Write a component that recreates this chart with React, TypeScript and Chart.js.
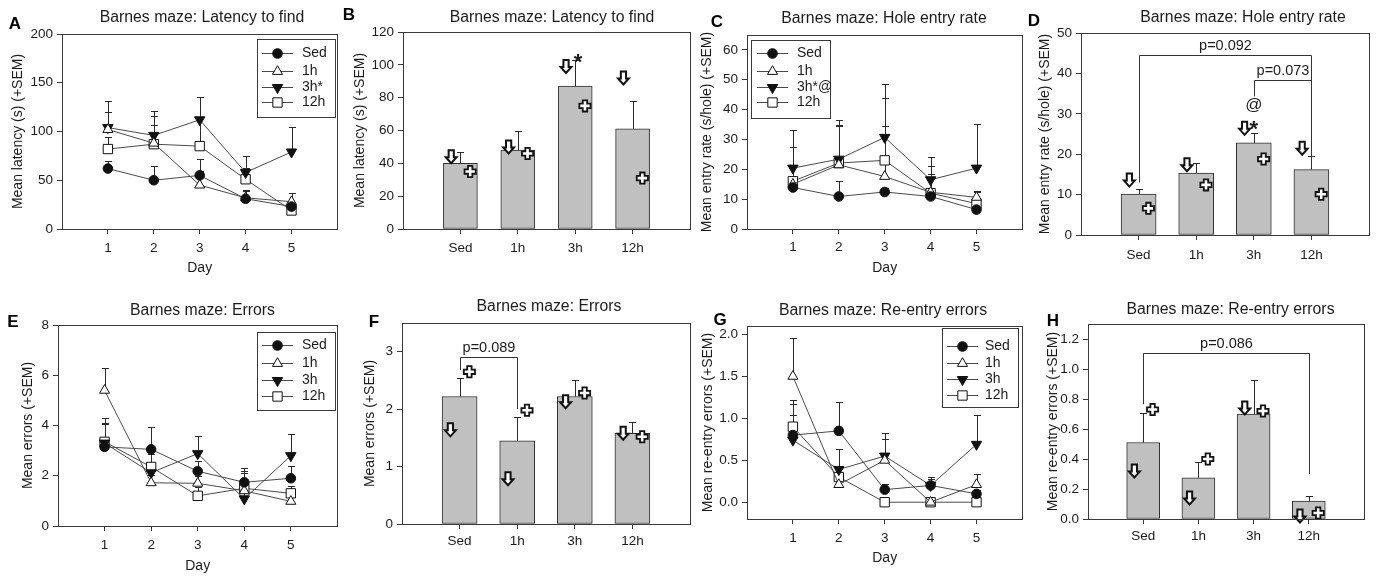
import React, { useEffect, useRef } from 'react';
import { Chart, registerables } from 'chart.js';
import { drawPoint } from 'chart.js/helpers';

Chart.register(...registerables);

const FONT = "'Liberation Sans', Arial, Helvetica, sans-serif";
const TEXT = '#1c1c1c';
const AXIS = '#3a3a3a';
const LINE = '#4a4a4a';
const BAR_FILL = '#c0c0c0';
const BAR_EDGE = '#2e2e2e';
const INK = '#111111';

// ---------------- categories / ticks ----------------
const groups = ['Sed', '1h', '3h', '12h'];
const groupPositions = [1, 2, 3, 4];
const days = [1, 2, 3, 4, 5];

// ---------------- A: latency by day ----------------
const latencyTicks = [0, 50, 100, 150, 200];
const latencySed = [62, 50, 55, 31, 23];
const latencySedSem = [8, 15, 17, 8, 5];
const latency1h = [102, 88, 45, 32, 28];
const latency1hSem = [18, 28, 14, 8, 9];
const latency3h = [104, 96, 112, 58, 79];
const latency3hSem = [27, 25, 23, 17, 26];
const latency12h = [82, 87, 85, 51, 19];
const latency12hSem = [12, 20, 30, 12, 6];
const latencyLegend = ['Sed', '1h', '3h*', '12h'];

// ---------------- B: latency by group ----------------
const latencyBarTicks = [0, 20, 40, 60, 80, 100, 120];
const latencyMean = [40, 48, 87, 61];
const latencyMeanSem = [7, 11.5, 16, 17];
const latencyArrows = [44, 50, 99, 92];
const latencyCrosses = [35, 46, 75, 31];
const latencySigText = ['*'];
const latencySigPos = [3.05];
const latencySigY = [105];

// ---------------- C: hole entry rate by day ----------------
const rateTicks = [0, 10, 20, 30, 40, 50, 60];
const rateSed = [13.9, 10.9, 12.4, 10.9, 6.5];
const rateSedSem = [2, 5.3, 1.5, 1.5, 1.5];
const rate1h = [15, 21.5, 17.6, 12.3, 10.6];
const rate1hSem = [12.4, 13.5, 17, 6, 2];
const rate3h = [20.4, 23.4, 30.7, 16.5, 20.4];
const rate3hSem = [12.8, 13.2, 18, 7.6, 14.7];
const rate12h = [16, 22.1, 23, 12, 8.5];
const rate12hSem = [11.4, 12.5, 20.8, 9, 4];
const rateLegend = ['Sed', '1h', '3h*@', '12h'];

// ---------------- D: hole entry rate by group ----------------
const rateBarTicks = [0, 10, 20, 30, 40, 50];
const rateMean = [10.1, 15.3, 22.8, 16.2];
const rateMeanSem = [1.3, 2.6, 2.4, 3.3];
const rateArrows = [13.6, 17.4, 26.4, 21.5];
const rateCrosses = [6.6, 12.4, 18.8, 10.1];
const rateSigText = ['@', '*'];
const rateSigPos = [3, 3];
const rateSigY = [32.2, 27.7];
const rateBracketLabels = ['p=0.092', 'p=0.073'];
const rateBracketFrom = [1, 3];
const rateBracketTo = [4, 4];
const rateBracketY = [44.6, 38.4];
const rateBracketFromY = [13, 34.3];
const rateBracketToY = [16.5, 16.5];

// ---------------- E: errors by day ----------------
const errorTicks = [0, 2, 4, 6, 8];
const errorSed = [3.15, 3.05, 2.18, 1.74, 1.9];
const errorSedSem = [0.9, 0.9, 0.4, 0.58, 0.48];
const error1h = [5.4, 1.72, 1.7, 1.4, 0.98];
const error1hSem = [0.88, 0.3, 0.3, 0.4, 0.3];
const error3h = [3.3, 2.12, 2.88, 1.08, 2.8];
const error3hSem = [0.8, 0.35, 0.7, 1.1, 0.87];
const error12h = [3.35, 2.35, 1.2, 1.5, 1.3];
const error12hSem = [0.95, 0.5, 0.35, 0.6, 0.3];
const errorLegend = ['Sed', '1h', '3h', '12h'];

// ---------------- F: errors by group ----------------
const errorBarTicks = [0, 1, 2, 3];
const errorMean = [2.22, 1.45, 2.22, 1.58];
const errorMeanSem = [0.33, 0.41, 0.29, 0.2];
const errorArrows = [1.64, 0.79, 2.13, 1.58];
const errorCrosses = [2.65, 1.98, 2.28, 1.52];
const errorBracketLabels = ['p=0.089'];
const errorBracketFrom = [1];
const errorBracketTo = [2];
const errorBracketY = [2.9];
const errorBracketFromY = [2.68];
const errorBracketToY = [2.0];

// ---------------- G: re-entry errors by day ----------------
const reentryTicks = [0, 0.5, 1, 1.5, 2];
const reentrySed = [0.8, 0.85, 0.15, 0.2, 0.1];
const reentrySedSem = [0.37, 0.35, 0.07, 0.1, 0.05];
const reentry1h = [1.5, 0.21, 0.5, 0, 0.21];
const reentry1hSem = [0.46, 0.1, 0.25, 0, 0.13];
const reentry3h = [0.74, 0.39, 0.55, 0.2, 0.69];
const reentry3hSem = [0.3, 0.24, 0.27, 0.08, 0.35];
const reentry12h = [0.9, 0.3, 0, 0, 0];
const reentry12hSem = [0.32, 0.1, 0, 0, 0];
const reentryLegend = ['Sed', '1h', '3h', '12h'];

// ---------------- H: re-entry errors by group ----------------
const reentryBarTicks = [0, 0.2, 0.4, 0.6, 0.8, 1.0, 1.2];
const reentryMean = [0.51, 0.275, 0.7, 0.12];
const reentryMeanSem = [0.195, 0.105, 0.23, 0.035];
const reentryArrows = [0.32, 0.14, 0.74, 0.02];
const reentryCrosses = [0.73, 0.4, 0.72, 0.04];
const reentryBracketLabels = ['p=0.086'];
const reentryBracketFrom = [1];
const reentryBracketTo = [4];
const reentryBracketY = [1.107];
const reentryBracketFromY = [0.765];
const reentryBracketToY = [0.3];

// ---------------- marker styles (per group) ----------------
const markerStyle = ['circle', 'triangle', 'triangle', 'rect'];
const markerRotation = [0, 0, 180, 0];
const markerFilled = [true, false, true, false];
const markerRadius = [4.8, 5.8, 6, 6.6];

function zipBrackets(labels: string[], from: number[], to: number[], y: number[], fromY: number[], toY: number[]) {
  return labels.map((label, i) => ({ label, from: from[i], to: to[i], y: y[i], fromY: fromY[i], toY: toY[i] }));
}
function zipMarks(text: string[], pos: number[], y: number[]) {
  return text.map((t, i) => ({ text: t, x: pos[i], y: y[i] }));
}

// ---------------- panel layouts (page px) ----------------
const panels: any[] = [
  {
    kind: 'line', box: [0, 0, 345, 290], plot: [62, 34, 342, 229],
    title: 'Barnes maze: Latency to find', titleX: 202, titleY: 18, letter: 'A', letterX: 15, letterY: 24,
    yTitle: 'Mean latency (s) (+SEM)', yTitleX: 18, xTitleY: 268, xLabelY: 248,
    yMin: 0, yMax: 200, yTicks: latencyTicks, decimals: 0,
    series: [latencySed, latency1h, latency3h, latency12h],
    sems: [latencySedSem, latency1hSem, latency3hSem, latency12hSem],
    legend: { labels: latencyLegend, x0: 257, y0: 39, x1: 335, y1: 117, rows: [53, 70.5, 86.5, 102], lineX0: 262, lineX1: 293, textX: 302 },
  },
  {
    kind: 'bar', box: [336, 0, 359, 290], plot: [403, 32, 690, 229],
    title: 'Barnes maze: Latency to find', titleX: 552, titleY: 18, letter: 'B', letterX: 349, letterY: 15,
    yTitle: 'Mean latency (s) (+SEM)', yTitleX: 360, xLabelY: 248,
    yMin: 0, yMax: 120, yTicks: latencyBarTicks, decimals: 0, barWidth: 34,
    means: latencyMean, sems: latencyMeanSem, arrows: latencyArrows, crosses: latencyCrosses,
    marks: zipMarks(latencySigText, latencySigPos, latencySigY), brackets: [],
  },
  {
    kind: 'line', box: [690, 0, 340, 290], plot: [747, 35, 1024, 229],
    title: 'Barnes maze: Hole entry rate', titleX: 884, titleY: 19, letter: 'C', letterX: 717, letterY: 22,
    yTitle: 'Mean entry rate (s/hole) (+SEM)', yTitleX: 707, xTitleY: 268, xLabelY: 247,
    yMin: 0, yMax: 65, yTicks: rateTicks, decimals: 0,
    series: [rateSed, rate1h, rate3h, rate12h],
    sems: [rateSedSem, rate1hSem, rate3hSem, rate12hSem],
    legend: { labels: rateLegend, x0: 751, y0: 40, x1: 830, y1: 118, rows: [53, 70.5, 86.5, 102], lineX0: 757, lineX1: 788, textX: 797 },
  },
  {
    kind: 'bar', box: [1022, 0, 354, 290], plot: [1081, 33, 1369, 235],
    title: 'Barnes maze: Hole entry rate', titleX: 1243, titleY: 18, letter: 'D', letterX: 1034, letterY: 21,
    yTitle: 'Mean entry rate (s/hole) (+SEM)', yTitleX: 1045, xLabelY: 255,
    yMin: 0, yMax: 50, yTicks: rateBarTicks, decimals: 0, barWidth: 35,
    means: rateMean, sems: rateMeanSem, arrows: rateArrows, crosses: rateCrosses,
    marks: zipMarks(rateSigText, rateSigPos, rateSigY),
    brackets: zipBrackets(rateBracketLabels, rateBracketFrom, rateBracketTo, rateBracketY, rateBracketFromY, rateBracketToY),
  },
  {
    kind: 'line', box: [0, 290, 345, 287], plot: [58, 325, 344, 526],
    title: 'Barnes maze: Errors', titleX: 202.5, titleY: 311, letter: 'E', letterX: 13, letterY: 322,
    yTitle: 'Mean errors (+SEM)', yTitleX: 28, xTitleY: 566, xLabelY: 545,
    yMin: 0, yMax: 8, yTicks: errorTicks, decimals: 0,
    series: [errorSed, error1h, error3h, error12h],
    sems: [errorSedSem, error1hSem, error3hSem, error12hSem],
    legend: { labels: errorLegend, x0: 257, y0: 332, x1: 335, y1: 410, rows: [345, 362.5, 379.5, 396], lineX0: 262, lineX1: 293, textX: 302 },
  },
  {
    kind: 'bar', box: [336, 290, 359, 287], plot: [402, 323, 690, 524],
    title: 'Barnes maze: Errors', titleX: 549, titleY: 307, letter: 'F', letterX: 374, letterY: 322,
    yTitle: 'Mean errors (+SEM)', yTitleX: 370, xLabelY: 541.5,
    yMin: 0, yMax: 3.5, yTicks: errorBarTicks, decimals: 0, barWidth: 35,
    means: errorMean, sems: errorMeanSem, arrows: errorArrows, crosses: errorCrosses, marks: [],
    brackets: zipBrackets(errorBracketLabels, errorBracketFrom, errorBracketTo, errorBracketY, errorBracketFromY, errorBracketToY),
  },
  {
    kind: 'line', box: [690, 290, 340, 287], plot: [747, 326, 1024, 519],
    title: 'Barnes maze: Re-entry errors', titleX: 883, titleY: 311, letter: 'G', letterX: 720, letterY: 320,
    yTitle: 'Mean re-entry errors (+SEM)', yTitleX: 708, xTitleY: 558, xLabelY: 538,
    yMin: -0.2, yMax: 2.1, yTicks: reentryTicks, decimals: 1,
    series: [reentrySed, reentry1h, reentry3h, reentry12h],
    sems: [reentrySedSem, reentry1hSem, reentry3hSem, reentry12hSem],
    legend: { labels: reentryLegend, x0: 942, y0: 328, x1: 1018, y1: 406.5, rows: [346, 362.5, 379, 395], lineX0: 947, lineX1: 978, textX: 985 },
  },
  {
    kind: 'bar', box: [1022, 290, 354, 287], plot: [1088, 324, 1364, 519],
    title: 'Barnes maze: Re-entry errors', titleX: 1230.5, titleY: 310, letter: 'H', letterX: 1053, letterY: 321.5,
    yTitle: 'Mean re-entry errors (+SEM)', yTitleX: 1053, xLabelY: 536.5,
    yMin: 0, yMax: 1.3, yTicks: reentryBarTicks, decimals: 1, barWidth: 33,
    means: reentryMean, sems: reentryMeanSem, arrows: reentryArrows, crosses: reentryCrosses, marks: [],
    brackets: zipBrackets(reentryBracketLabels, reentryBracketFrom, reentryBracketTo, reentryBracketY, reentryBracketFromY, reentryBracketToY),
  },
];

// ---------------- drawing helpers ----------------
function drawArrow(ctx: CanvasRenderingContext2D, cx: number, cy: number) {
  const sw = 2.6, hw = 5.4, top = cy - 6.5, mid = cy + 0.5, tip = cy + 6.5;
  ctx.beginPath();
  ctx.moveTo(cx - sw, top);
  ctx.lineTo(cx + sw, top);
  ctx.lineTo(cx + sw, mid);
  ctx.lineTo(cx + hw, mid);
  ctx.lineTo(cx, tip);
  ctx.lineTo(cx - hw, mid);
  ctx.lineTo(cx - sw, mid);
  ctx.closePath();
  ctx.fillStyle = '#ffffff';
  ctx.fill();
  ctx.lineWidth = 2;
  ctx.lineJoin = 'miter';
  ctx.strokeStyle = INK;
  ctx.stroke();
}

function drawCross(ctx: CanvasRenderingContext2D, cx: number, cy: number) {
  const a = 2.2, L = 5.6;
  ctx.beginPath();
  ctx.moveTo(cx - a, cy - L);
  ctx.lineTo(cx + a, cy - L);
  ctx.lineTo(cx + a, cy - a);
  ctx.lineTo(cx + L, cy - a);
  ctx.lineTo(cx + L, cy + a);
  ctx.lineTo(cx + a, cy + a);
  ctx.lineTo(cx + a, cy + L);
  ctx.lineTo(cx - a, cy + L);
  ctx.lineTo(cx - a, cy + a);
  ctx.lineTo(cx - L, cy + a);
  ctx.lineTo(cx - L, cy - a);
  ctx.lineTo(cx - a, cy - a);
  ctx.closePath();
  ctx.fillStyle = '#ffffff';
  ctx.fill();
  ctx.lineWidth = 1.8;
  ctx.strokeStyle = INK;
  ctx.stroke();
}

function drawErrorBars(chart: any) {
  const ctx = chart.ctx as CanvasRenderingContext2D;
  const ys = chart.scales.y;
  ctx.save();
  ctx.strokeStyle = '#2a2a2a';
  ctx.lineWidth = 1;
  chart.data.datasets.forEach((ds: any, di: number) => {
    const meta = chart.getDatasetMeta(di);
    (ds.errors || []).forEach((e: number, j: number) => {
      if (!e) return;
      const el = meta.data[j];
      if (!el) return;
      const x = Math.round(el.x) + 0.5;
      const v = ds.data[j].y;
      const y0 = ys.getPixelForValue(v);
      const y1 = Math.round(ys.getPixelForValue(v + e)) + 0.5;
      ctx.beginPath();
      ctx.moveTo(x, y0);
      ctx.lineTo(x, y1);
      ctx.moveTo(x - 3.5, y1);
      ctx.lineTo(x + 3.5, y1);
      ctx.stroke();
    });
  });
  ctx.restore();
}

function buildConfig(p: any) {
  const [ox, oy, W, H] = p.box;
  const [pl, pt, pr, pb] = p.plot;
  const isLine = p.kind === 'line';
  const yW = pl - ox;
  const xH = oy + H - pb;
  const tickFont = { family: FONT, size: 13.5 };
  const axisTitleFont = { family: FONT, size: 14 };
  const xTickVals = isLine ? days : groupPositions;

  const datasets: any[] = [];
  if (isLine) {
    p.series.forEach((vals: number[], s: number) => {
      datasets.push({
        type: 'line',
        label: p.legend.labels[s],
        data: days.map((d, i) => ({ x: d, y: vals[i] })),
        borderColor: LINE,
        borderWidth: 1,
        tension: 0,
        fill: false,
        pointStyle: markerStyle[s],
        pointRotation: markerRotation[s],
        pointRadius: markerRadius[s],
        pointHoverRadius: markerRadius[s],
        pointBackgroundColor: markerFilled[s] ? INK : '#ffffff',
        pointBorderColor: INK,
        pointBorderWidth: 1,
        errors: p.sems[s],
      });
    });
  } else {
    datasets.push({
      type: 'bar',
      label: p.title,
      data: p.means.map((v: number, i: number) => ({ x: groupPositions[i], y: v })),
      backgroundColor: BAR_FILL,
      borderColor: BAR_EDGE,
      borderWidth: 1,
      borderSkipped: false,
      barThickness: p.barWidth,
      errors: p.sems,
    });
  }

  const decor = {
    id: 'panelDecor',
    beforeDatasetsDraw(chart: any) {
      if (isLine) drawErrorBars(chart);
    },
    afterDatasetsDraw(chart: any) {
      const ctx = chart.ctx as CanvasRenderingContext2D;
      const xs = chart.scales.x;
      const ys = chart.scales.y;
      if (!isLine) {
        drawErrorBars(chart);
        ctx.save();
        p.arrows.forEach((v: number, i: number) => {
          drawArrow(ctx, xs.getPixelForValue(groupPositions[i] - 0.16), ys.getPixelForValue(v));
        });
        p.crosses.forEach((v: number, i: number) => {
          drawCross(ctx, xs.getPixelForValue(groupPositions[i] + 0.17), ys.getPixelForValue(v));
        });
        p.marks.forEach((m: any) => {
          const x = xs.getPixelForValue(m.x);
          const y = ys.getPixelForValue(m.y);
          ctx.fillStyle = TEXT;
          ctx.textAlign = 'center';
          if (m.text === '*') {
            ctx.font = `bold 22px ${FONT}`;
            ctx.textBaseline = 'alphabetic';
            ctx.fillText(m.text, x, y + 12.5);
          } else {
            ctx.font = `17px ${FONT}`;
            ctx.textBaseline = 'middle';
            ctx.fillText(m.text, x, y);
          }
        });
        p.brackets.forEach((b: any) => {
          const xa = Math.round(xs.getPixelForValue(b.from)) + 0.5;
          const xb = Math.round(xs.getPixelForValue(b.to)) + 0.5;
          const yl = Math.round(ys.getPixelForValue(b.y)) + 0.5;
          ctx.strokeStyle = '#333333';
          ctx.lineWidth = 1;
          ctx.beginPath();
          ctx.moveTo(xa, ys.getPixelForValue(b.fromY));
          ctx.lineTo(xa, yl);
          ctx.lineTo(xb, yl);
          ctx.lineTo(xb, ys.getPixelForValue(b.toY));
          ctx.stroke();
          ctx.fillStyle = TEXT;
          ctx.font = `14.5px ${FONT}`;
          ctx.textAlign = 'center';
          ctx.textBaseline = 'middle';
          ctx.fillText(b.label, (xa + xb) / 2, yl - 10);
        });
        ctx.restore();
      } else {
        const L = p.legend;
        ctx.save();
        ctx.fillStyle = '#ffffff';
        ctx.fillRect(L.x0 - ox, L.y0 - oy, L.x1 - L.x0, L.y1 - L.y0);
        ctx.strokeStyle = AXIS;
        ctx.lineWidth = 1;
        ctx.strokeRect(Math.round(L.x0 - ox) + 0.5, Math.round(L.y0 - oy) + 0.5, Math.round(L.x1 - L.x0), Math.round(L.y1 - L.y0));
        L.rows.forEach((ry: number, s: number) => {
          const y = ry - oy;
          ctx.strokeStyle = LINE;
          ctx.lineWidth = 1;
          ctx.beginPath();
          ctx.moveTo(L.lineX0 - ox, Math.round(y) + 0.5);
          ctx.lineTo(L.lineX1 - ox, Math.round(y) + 0.5);
          ctx.stroke();
          ctx.fillStyle = markerFilled[s] ? INK : '#ffffff';
          ctx.strokeStyle = INK;
          ctx.lineWidth = 1;
          drawPoint(ctx, { pointStyle: markerStyle[s], rotation: markerRotation[s], radius: markerRadius[s], borderWidth: 1 } as any, (L.lineX0 + L.lineX1) / 2 - ox, Math.round(y) + 0.5);
          ctx.fillStyle = TEXT;
          ctx.font = `14px ${FONT}`;
          ctx.textAlign = 'left';
          ctx.textBaseline = 'middle';
          ctx.fillText(L.labels[s], L.textX - ox, y + 0.5);
        });
        ctx.restore();
      }
    },
    afterDraw(chart: any) {
      const ctx = chart.ctx as CanvasRenderingContext2D;
      const ca = chart.chartArea;
      ctx.save();
      ctx.strokeStyle = AXIS;
      ctx.lineWidth = 1;
      ctx.strokeRect(Math.round(ca.left) + 0.5, Math.round(ca.top) + 0.5, Math.round(ca.right - ca.left), Math.round(ca.bottom - ca.top));
      ctx.fillStyle = TEXT;
      ctx.textAlign = 'center';
      ctx.textBaseline = 'middle';
      ctx.font = `15.8px ${FONT}`;
      ctx.fillText(p.title, p.titleX - ox, p.titleY - oy);
      ctx.font = `bold 17px ${FONT}`;
      ctx.fillStyle = '#000000';
      ctx.fillText(p.letter, p.letterX - ox, p.letterY - oy);
      ctx.restore();
    },
  };

  return {
    type: isLine ? 'line' : 'bar',
    data: { datasets },
    options: {
      responsive: false,
      animation: false,
      events: [],
      layout: { padding: { top: pt - oy, right: ox + W - pr, left: 0, bottom: 0 } },
      plugins: { legend: { display: false }, tooltip: { enabled: false }, title: { display: false } },
      scales: {
        x: {
          type: 'linear',
          min: 0,
          max: isLine ? 6 : 5,
          offset: false,
          afterBuildTicks: (ax: any) => { ax.ticks = xTickVals.map((v) => ({ value: v })); },
          afterFit: (ax: any) => { ax.height = xH; },
          grid: { display: true, offset: false, drawOnChartArea: false, drawTicks: true, tickLength: 5, color: AXIS, lineWidth: 1 },
          border: { display: true, color: AXIS, width: 1 },
          ticks: {
            color: TEXT,
            font: tickFont,
            padding: p.xLabelY - pb - 5 - 8.1,
            maxRotation: 0,
            autoSkip: false,
            callback: (v: any) => (isLine ? String(v) : groups[Number(v) - 1] ?? ''),
          },
          title: {
            display: isLine,
            text: 'Day',
            color: TEXT,
            font: axisTitleFont,
            padding: { top: 0, bottom: isLine ? oy + H - p.xTitleY - 8.4 : 0 },
          },
        },
        y: {
          type: 'linear',
          min: p.yMin,
          max: p.yMax,
          afterBuildTicks: (ax: any) => { ax.ticks = p.yTicks.map((v: number) => ({ value: v })); },
          afterFit: (ax: any) => { ax.width = yW; },
          grid: { display: true, drawOnChartArea: false, drawTicks: true, tickLength: 5, color: AXIS, lineWidth: 1 },
          border: { display: true, color: AXIS, width: 1 },
          ticks: {
            color: TEXT,
            font: tickFont,
            padding: 4,
            autoSkip: false,
            callback: (v: any) => Number(v).toFixed(p.decimals),
          },
          title: {
            display: true,
            text: p.yTitle,
            color: TEXT,
            font: axisTitleFont,
            padding: { top: p.yTitleX - ox - 8.4, bottom: 0 },
          },
        },
      },
    },
    plugins: [decor],
  } as any;
}

function Panel({ spec }: { spec: any }) {
  const ref = useRef<HTMLCanvasElement>(null);
  useEffect(() => {
    if (!ref.current) return;
    const chart = new Chart(ref.current, buildConfig(spec));
    return () => chart.destroy();
  }, [spec]);
  const [l, t, w, h] = spec.box;
  return (
    <canvas
      ref={ref}
      width={w}
      height={h}
      style={{ position: 'absolute', left: l, top: t, width: w, height: h }}
    />
  );
}

export default function App() {
  return (
    <div style={{ position: 'fixed', left: 0, top: 0, width: 1376, height: 577, background: '#ffffff', overflow: 'hidden' }}>
      {panels.map((p, i) => (
        <Panel key={i} spec={p} />
      ))}
    </div>
  );
}
